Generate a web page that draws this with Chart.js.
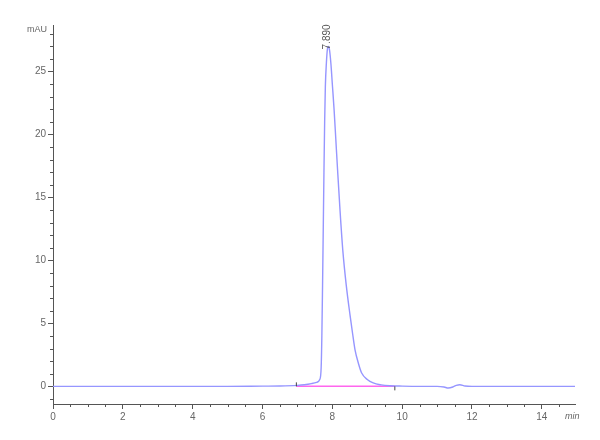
<!DOCTYPE html>
<html>
<head>
<meta charset="utf-8">
<script src="https://cdn.jsdelivr.net/npm/chart.js@4/dist/chart.umd.min.js"></script>
<style>
  html, body { margin: 0; padding: 0; background: #fff; }
  canvas { display: block; }
</style>
</head>
<body>
<canvas id="c" width="600" height="440"></canvas>
<script>
// ---- data ----
const timeMin = [0, 1, 2, 3, 4, 5, 6, 6.5, 7.0, 7.2, 7.4, 7.55, 7.64, 7.68, 7.70, 7.72, 7.74, 7.76, 7.78, 7.80, 7.83, 7.86, 7.89, 7.92, 7.96, 8.00, 8.05, 8.10, 8.15, 8.22, 8.30, 8.40, 8.51, 8.58, 8.65, 8.75, 8.84, 9.0, 9.17, 9.4, 9.65, 10.0, 10.5, 11.0, 11.2, 11.32, 11.45, 11.55, 11.65, 11.8, 12.0, 13.0, 14.0, 14.95];
const signalMAU = [0.0, 0.0, 0.0, 0.0, 0.0, 0.0, 0.02, 0.03, 0.08, 0.13, 0.22, 0.32, 0.55, 1.5, 4.0, 8.0, 12.5, 17.0, 21.0, 23.8, 25.7, 26.8, 27.0, 26.7, 25.6, 24.0, 22.0, 19.6, 17.2, 14.0, 10.8, 8.0, 5.6, 4.2, 2.9, 1.8, 1.06, 0.55, 0.27, 0.12, 0.05, 0.02, 0.0, 0.0, -0.05, -0.13, -0.05, 0.08, 0.13, 0.03, 0.0, 0.0, 0.0, 0.0];
const baselineTime = [6.97, 9.79];
const baselineMAU = [0.0, 0.0];
const peakTime = 7.890;
const peakHeight = 27.0;
const peakLabel = "7.890";
const xTicks = [0, 2, 4, 6, 8, 10, 12, 14];
const yTicks = [0, 5, 10, 15, 20, 25];
const xMinorStep = 0.5;
const yMinorStep = 1;
const yUnit = "mAU";
const xUnit = "min";

const AXIS = "#555";
const TEXT = "#666";
const FONT = "Liberation Sans";

const trace = timeMin.map((t, i) => ({ x: t, y: signalMAU[i] }));
const base = baselineTime.map((t, i) => ({ x: t, y: baselineMAU[i] }));

const extras = {
  id: "extras",
  afterDraw(chart) {
    const ctx = chart.ctx;
    const xs = chart.scales.x, ys = chart.scales.y;
    const ca = chart.chartArea;
    ctx.save();
    ctx.strokeStyle = AXIS;
    ctx.lineWidth = 1;
    // minor ticks x
    for (let v = xs.min; v <= xs.max + 1e-9; v += xMinorStep) {
      if (xTicks.includes(Math.round(v * 100) / 100)) continue;
      const px = Math.round(xs.getPixelForValue(v)) + 0.5;
      ctx.beginPath(); ctx.moveTo(px, ca.bottom); ctx.lineTo(px, ca.bottom + 3); ctx.stroke();
    }
    // minor ticks y
    for (let v = Math.ceil(ys.min); v <= ys.max; v += yMinorStep) {
      if (yTicks.includes(v)) continue;
      const py = Math.round(ys.getPixelForValue(v)) + 0.5;
      ctx.beginPath(); ctx.moveTo(ca.left - 3, py); ctx.lineTo(ca.left, py); ctx.stroke();
    }
    // baseline end ticks
    const b0x = xs.getPixelForValue(baselineTime[0]), b0y = ys.getPixelForValue(baselineMAU[0]);
    const b1x = xs.getPixelForValue(baselineTime[1]), b1y = ys.getPixelForValue(baselineMAU[1]);
    ctx.strokeStyle = "#444";
    ctx.beginPath(); ctx.moveTo(b0x, b0y - 4); ctx.lineTo(b0x, b0y); ctx.stroke();
    ctx.beginPath(); ctx.moveTo(b1x, b1y); ctx.lineTo(b1x, b1y + 4); ctx.stroke();
    // unit labels
    ctx.fillStyle = TEXT;
    ctx.font = "9px '" + FONT + "'";
    ctx.textAlign = "right"; ctx.textBaseline = "middle";
    ctx.fillText(yUnit, ca.left - 6, ca.top + 5);
    ctx.textAlign = "left"; ctx.textBaseline = "top";
    ctx.font = "italic 9px '" + FONT + "'";
    ctx.fillText(xUnit, ca.right - 10, ca.bottom + 8);
    // peak label, rotated
    const px = xs.getPixelForValue(peakTime), py = ys.getPixelForValue(peakHeight);
    ctx.font = "10px '" + FONT + "'";
    ctx.fillStyle = "#555";
    ctx.translate(px - 1, py + 3);
    ctx.rotate(-Math.PI / 2);
    ctx.textAlign = "left"; ctx.textBaseline = "middle";
    ctx.fillText(peakLabel, 0, 0);
    ctx.restore();
  }
};

new Chart(document.getElementById("c"), {
  type: "line",
  data: {
    datasets: [
      {
        data: base,
        borderColor: "#ff66ee",
        borderWidth: 1.5,
        pointRadius: 0,
        order: 2
      },
      {
        data: trace,
        borderColor: "#9696ff",
        borderWidth: 1.4,
        pointRadius: 0,
        cubicInterpolationMode: "monotone",
        order: 1
      }
    ]
  },
  options: {
    responsive: false,
    animation: false,
    events: [],
    parsing: false,
    layout: { padding: { top: 25, right: 25, left: 0, bottom: 0 } },
    plugins: { legend: { display: false }, tooltip: { enabled: false } },
    scales: {
      x: {
        type: "linear",
        min: 0,
        max: 14.95,
        afterBuildTicks: (s) => { s.ticks = xTicks.map(v => ({ value: v })); },
        afterFit: (s) => { s.height = 36; },
        border: { display: true, color: AXIS, width: 1 },
        grid: { drawOnChartArea: false, drawTicks: true, tickLength: 5, tickColor: AXIS },
        ticks: { color: TEXT, font: { family: FONT, size: 10 }, padding: 2, maxRotation: 0, autoSkip: false }
      },
      y: {
        type: "linear",
        min: -1.4,
        max: 28.7,
        afterBuildTicks: (s) => { s.ticks = yTicks.map(v => ({ value: v })); },
        afterFit: (s) => { s.width = 53; },
        border: { display: true, color: AXIS, width: 1 },
        grid: { drawOnChartArea: false, drawTicks: true, tickLength: 5, tickColor: AXIS },
        ticks: { color: TEXT, font: { family: FONT, size: 10 }, padding: 2, autoSkip: false }
      }
    }
  },
  plugins: [extras]
});
</script>
</body>
</html>
